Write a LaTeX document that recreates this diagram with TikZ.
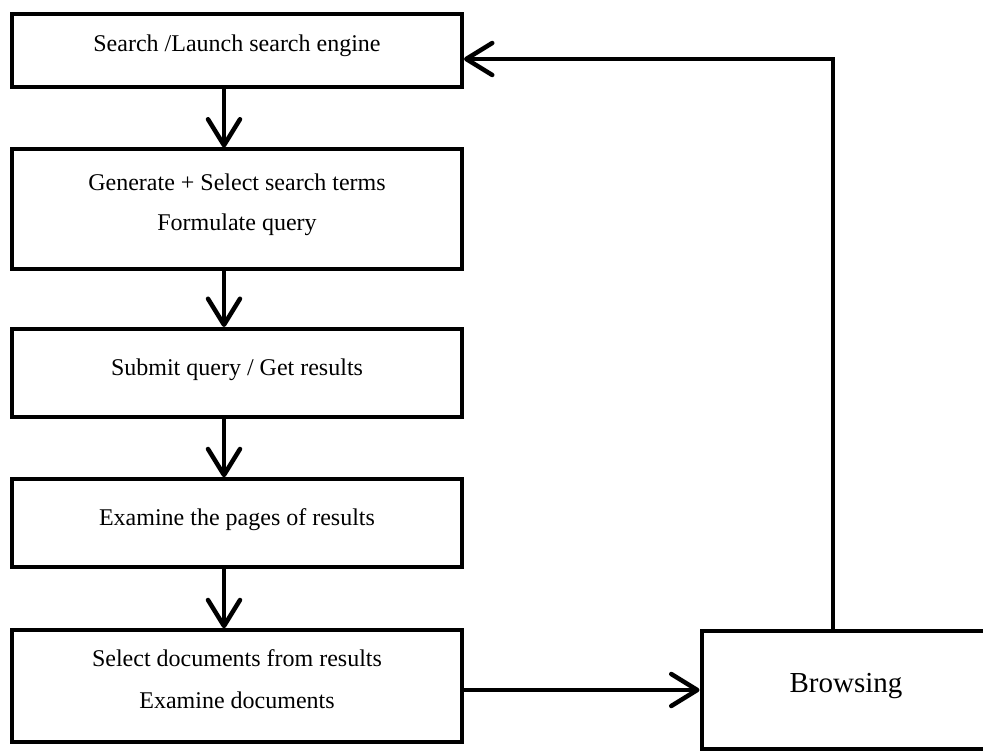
\documentclass[tikz,border=0pt]{standalone}
\usepackage{fontspec}
\setmainfont{Liberation Serif}
\usetikzlibrary{arrows.meta}
\begin{document}
\begin{tikzpicture}[x=1pt,y=-1pt,
  box/.style={draw=black, line width=4pt, rectangle, inner sep=0pt},
  txt/.style={anchor=base, inner sep=0pt, font=\fontsize{24}{28}\selectfont},
  bigtxt/.style={anchor=base, inner sep=0pt, font=\fontsize{29}{34}\selectfont},
  arr/.style={line width=4.5pt, -{Straight Barb[length=26pt,width=32pt,round]}},
  conn/.style={line width=4.5pt, line cap=round}
]
\useasboundingbox (0,0) rectangle (983,751);
\clip (0,0) rectangle (983,751);

% boxes
\node[box, minimum width=450pt, minimum height=73pt] (b1) at (237,50.5) {};
\node[box, minimum width=450pt, minimum height=120pt] (b2) at (237,209.5) {};
\node[box, minimum width=450pt, minimum height=88pt] (b3) at (237,373) {};
\node[box, minimum width=450pt, minimum height=87.5pt] (b4) at (237,523) {};
\node[box, minimum width=450pt, minimum height=111.5pt] (b5) at (237,686) {};
\node[box, minimum width=290pt, minimum height=118pt] (bro) at (846.5,690) {};

% texts
\node[txt] (t1) at (237,52) {Search /Launch search engine};
\node[txt] (t2a) at (237,190.5) {Generate + Select search terms};
\node[txt] (t2b) at (237,230.5) {Formulate query};
\node[txt] (t3) at (237,375) {Submit query / Get results};
\node[txt] (t4) at (237,525) {Examine the pages of results};
\node[txt] (t5a) at (237,666.5) {Select documents from results};
\node[txt] (t5b) at (237,708) {Examine documents};
\node[bigtxt] (t6) at (846,692.5) {Browsing};

% helper coordinates
\coordinate (vx) at (224,0);
\coordinate (fb) at (833,59);

% vertical arrows
\draw[arr] (b1.south -| vx) -- (b2.north -| vx);
\draw[arr] (b2.south -| vx) -- (b3.north -| vx);
\draw[arr] (b3.south -| vx) -- (b4.north -| vx);
\draw[arr] (b4.south -| vx) -- (b5.north -| vx);

% to browsing
\draw[arr] (b5.east |- bro.west) -- (bro.west);

% feedback loop
\draw[arr] (bro.north -| fb) -- (fb) -- (b1.east |- fb);
\end{tikzpicture}
\end{document}
